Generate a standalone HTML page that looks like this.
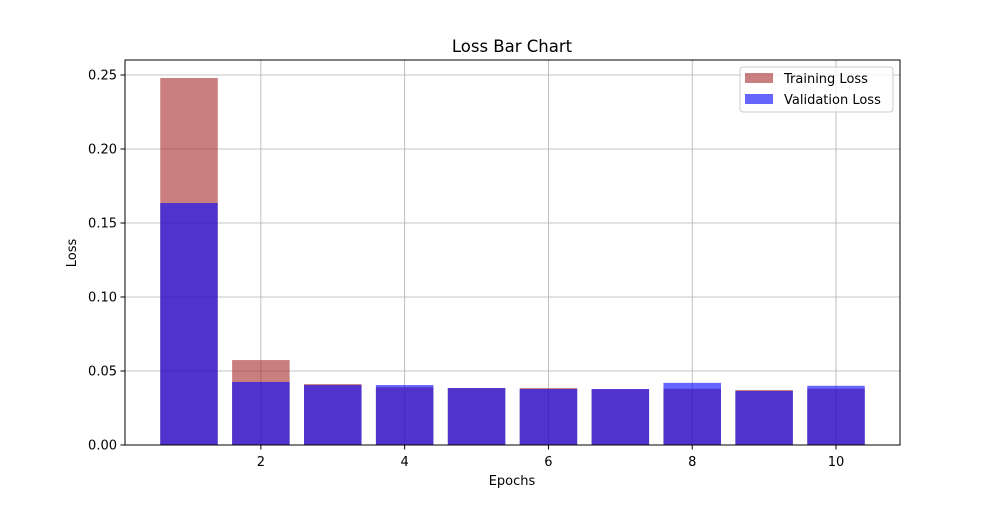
<!DOCTYPE html>
<html><head><meta charset="utf-8"><style>
body{margin:0;background:#fff;}
svg{font-family:"DejaVu Sans","Liberation Sans",sans-serif;}
</style></head><body>
<svg id="chart" width="1000" height="500">
<rect width="1000" height="500" fill="#fff"/>
<g id="grid"></g>
<g id="bars"></g>
<rect x="125" y="60" width="775" height="385" fill="none" stroke="#000" stroke-width="1"/>
<g id="ticks"></g>
<text x="512" y="52" text-anchor="middle" font-size="16.5">Loss Bar Chart</text>
<text x="512" y="485" text-anchor="middle" font-size="13">Epochs</text>
<text x="76" y="253" text-anchor="middle" font-size="13" transform="rotate(-90 76 253)">Loss</text>
<g>
<rect x="740" y="67" width="153" height="45" rx="3" fill="#fff" fill-opacity="0.8" stroke="#ccc"/>
<rect x="745" y="73" width="28" height="10" fill="rgba(165,42,42,0.6)"/>
<text x="784" y="83" font-size="13">Training Loss</text>
<rect x="745" y="94" width="28" height="10" fill="rgba(0,0,255,0.6)"/>
<text x="784" y="104" font-size="13">Validation Loss</text>
</g>
</svg>
<script>
const epochs=[1,2,3,4,5,6,7,8,9,10];
const trainLoss=[0.248,0.0574,0.0412,0.039,0.0385,0.0385,0.0378,0.038,0.0372,0.038];
const valLoss=[0.1635,0.0426,0.0405,0.0405,0.0385,0.0378,0.0378,0.042,0.0365,0.040];
const xTicks=[2,4,6,8,10];
const yTicks=[0,0.05,0.10,0.15,0.20,0.25];
const yTickLabels=["0.00","0.05","0.10","0.15","0.20","0.25"];
const NS="http://www.w3.org/2000/svg";
const x=v=>125+(v-0.11)/(10.89-0.11)*775;
const y=v=>445-v/0.25*370;
function mk(tag,attrs,parent){const e=document.createElementNS(NS,tag);for(const k in attrs)e.setAttribute(k,attrs[k]);document.getElementById(parent).appendChild(e);return e;}
xTicks.forEach(t=>{
  const l=mk('line',{x1:x(t),x2:x(t),y1:60,y2:445,stroke:'#b0b0b0','stroke-width':0.8},'grid');
  
  
  mk('line',{x1:x(t),x2:x(t),y1:445,y2:449.5,stroke:'#000'},'ticks');
  const tx=mk('text',{x:x(t),y:466,'text-anchor':'middle','font-size':13},'ticks');tx.textContent=t;
  
  
});
yTicks.forEach((t,i)=>{
  const l=mk('line',{x1:125,x2:900,y1:y(t),y2:y(t),stroke:'#b0b0b0','stroke-width':0.8},'grid');
  
  
  mk('line',{x1:120.5,x2:125,y1:y(t),y2:y(t),stroke:'#000'},'ticks');
  const tx=mk('text',{x:117,y:y(t)+4.5,'text-anchor':'end','font-size':13},'ticks');tx.textContent=yTickLabels[i];
  
  
});
const bw=x(0.8)-x(0);
epochs.forEach((e,i)=>{
  const b=mk('rect',{x:x(e-0.4),y:y(trainLoss[i]),width:bw,height:y(0)-y(trainLoss[i]),fill:'rgba(165,42,42,0.6)'},'bars');
  
  
});
epochs.forEach((e,i)=>{
  const b=mk('rect',{x:x(e-0.4),y:y(valLoss[i]),width:bw,height:y(0)-y(valLoss[i]),fill:'rgba(0,0,255,0.6)'},'bars');
  
  
});
</script>
</body></html>
